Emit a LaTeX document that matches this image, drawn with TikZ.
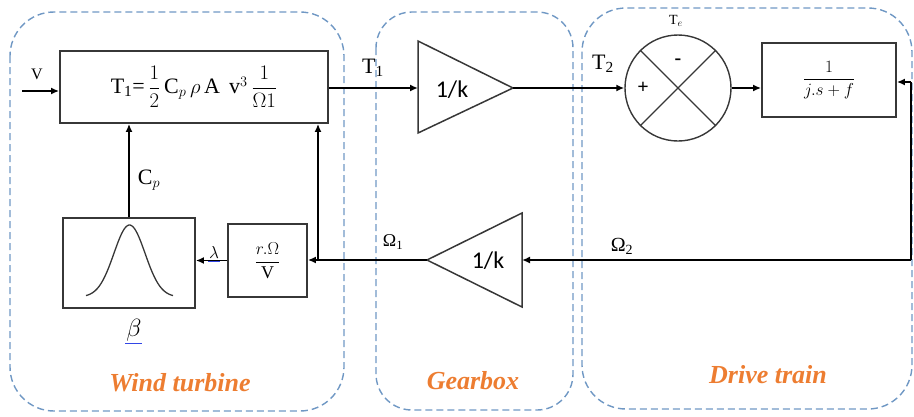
\documentclass[tikz,border=0pt]{standalone}
\usepackage{amsmath}
\usepackage{fontspec}
\setmainfont{Liberation Serif}
\newfontfamily\gainfont{Carlito}
\usetikzlibrary{arrows.meta}
\definecolor{zoneblue}{RGB}{112,152,196}
\definecolor{zoneorange}{RGB}{237,125,49}
\definecolor{boxgray}{RGB}{55,55,55}
\definecolor{markblue}{RGB}{50,70,230}
\newcommand{\fs}[1]{\fontsize{#1}{#1}\selectfont}

\begin{document}
\begin{tikzpicture}[x=1pt,y=-1pt,
  zone/.style={draw=zoneblue, line width=1.4pt, dash pattern=on 7pt off 4pt, rounded corners=44pt},
  zonelabel/.style={text=zoneorange, font=\fs{26}\bfseries\itshape},
  blockbox/.style={draw=boxgray, line width=1.8pt, inner sep=0pt},
  gainshape/.style={draw=boxgray, line width=1.5pt, line join=miter},
  sig/.style={line width=1.8pt, -{Latex[length=8pt,width=7pt]}},
  wire/.style={line width=1.8pt},
  lbl/.style={inner sep=0pt},
]
\useasboundingbox (0,0) rectangle (914,416);

% subsystem frames
\draw[zone] (10,12) rectangle (344,411);
\draw[zone, rounded corners=36pt] (376,12) rectangle (573,410);
\draw[zone] (582,8) rectangle (912,409);
\node[zonelabel] (lblwind) at (180,383) {Wind turbine};
\node[zonelabel] (lblgear) at (473,381) {Gearbox};
\node[zonelabel] (lbldrive) at (768,375) {Drive train};

% aerodynamic torque block
\node[blockbox, minimum width=268pt, minimum height=72pt] (aero) at (194,87)
  {\fs{22}T\textsubscript{1}=\,$\dfrac{1}{2}$\,C$_{p}$\,$\rho$\,A\, v$^{3}$\,$\dfrac{1}{\Omega 1}$};

% gearbox gains
\coordinate (g1in) at (418,88);
\coordinate (g1out) at (513,88);
\draw[gainshape] (418,41) -- (g1out) -- (418,133) -- cycle;
\node[lbl] (g1txt) at (452,90) {\gainfont\fs{24}1/k};

\coordinate (g2in) at (522,260);
\coordinate (g2out) at (427,260);
\draw[gainshape] (522,213) -- (g2out) -- (522,307) -- cycle;
\node[lbl] (g2txt) at (488,261) {\gainfont\fs{24}1/k};

% summing junction
\node[draw=boxgray, circle, line width=1.4pt, minimum size=106pt, inner sep=0pt] (sum) at (678,88) {};
\draw[line width=1.4pt, boxgray] (sum.north west) -- (sum.south east);
\draw[line width=1.4pt, boxgray] (sum.north east) -- (sum.south west);
\node[lbl] (plus) at (643,88) {\fs{20}\bfseries +};
\node[lbl] (minus) at (678,62) {\fs{20}\bfseries -};
\node[lbl] (te) at (676,21) {\fs{14}T$_e$};

% drive train dynamics
\node[blockbox, minimum width=134pt, minimum height=74pt] (drive) at (829,80)
  {\fs{19}$\dfrac{1}{j.s+f}$};

% tip speed ratio block
\node[blockbox, minimum width=79pt, minimum height=73pt] (tsr) at (267.5,260.5)
  {\fs{18}$\dfrac{r.\Omega}{\mathrm{V}}$};

% power coefficient curve
\node[blockbox, minimum width=132pt, minimum height=90pt] (cpcurve) at (129,263) {};
\draw[line width=1.3pt, boxgray, smooth] plot[domain=86:173, samples=60]
  (\x, {297-72*exp(-((\x-129.5)/22)^2)});

% signal connections
\coordinate (vin) at (22,91);
\draw[sig] (vin) -- (vin -| aero.west);
\node[lbl] (vlbl) at (37,74) {\fs{16}V};

\draw[sig] (g1in -| aero.east) -- (g1in);
\node[lbl] (t1lbl) at (373,68) {\fs{22}T\textsubscript{1}};

\draw[sig] (g1out) -- (sum.west);
\node[lbl] (t2lbl) at (603,64) {\fs{22}T\textsubscript{2}};

\draw[sig] (sum.east) -- (sum.east -| drive.west);

\coordinate (fbtop) at (911,82);
\coordinate (fbcorner) at (911,260);
\draw[sig] (fbtop) -- (fbtop -| drive.east);
\draw[wire] (fbtop) -- (fbcorner);
\draw[sig] (fbcorner) -- (g2in);
\node[lbl] (w2lbl) at (622,246) {\fs{20}Ω\textsubscript{2}};

\draw[sig] (g2out) -- (g2out -| tsr.east);
\node[lbl] (w1lbl) at (393,242) {\fs{18}Ω\textsubscript{1}};

\coordinate (tap) at (318,260);
\draw[sig] (tap) -- (tap |- aero.south);

\draw[sig] (tsr.west) -- (tsr.west -| cpcurve.east);
\node[lbl] (lamlbl) at (214,252) {\fs{17}$\lambda$};
\draw[markblue, line width=1pt] (208,261) -- (220,261);

\draw[sig] (cpcurve.north) -- (cpcurve.north |- aero.south);
\node[lbl] (cplbl) at (149,180) {\fs{22}C$_{p}$};

\node[lbl] (betalbl) at (134,330) {\fs{24}$\beta$};
\draw[markblue, line width=1pt] (125,343) -- (142,343);
\end{tikzpicture}
\end{document}
